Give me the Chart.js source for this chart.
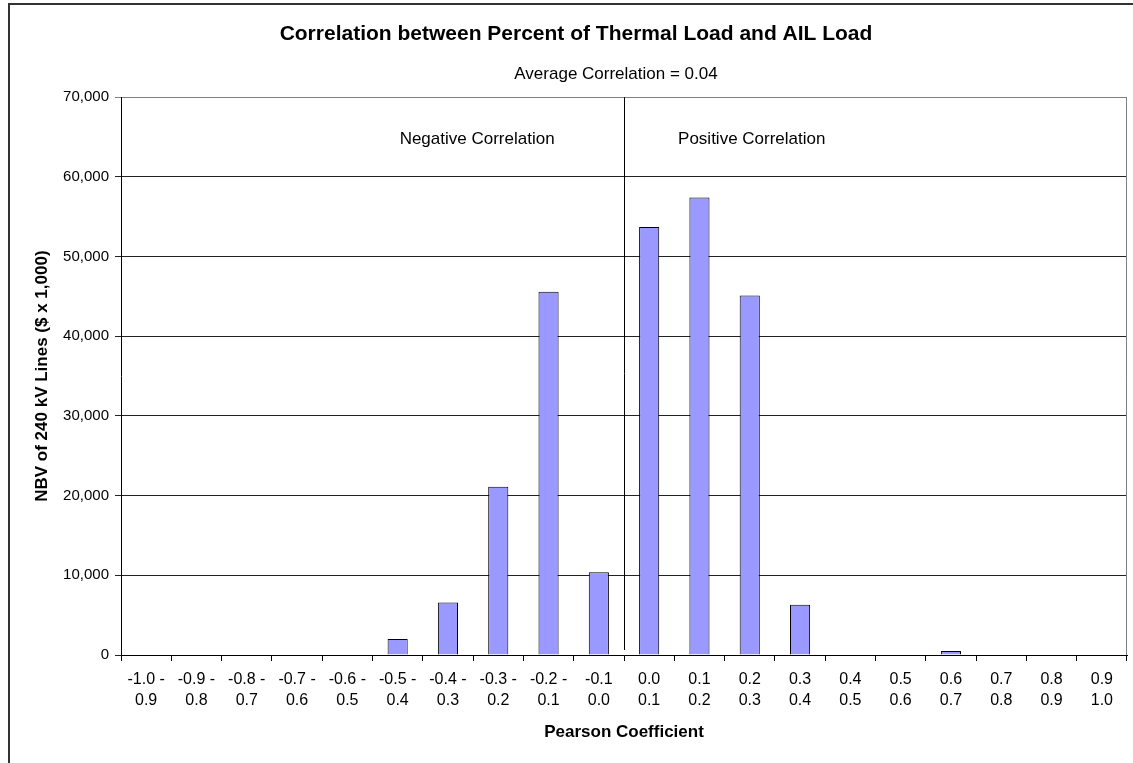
<!DOCTYPE html>
<html>
<head>
<meta charset="utf-8">
<script src="https://cdn.jsdelivr.net/npm/chart.js@4/dist/chart.umd.min.js"></script>
<style>
  html, body { margin: 0; padding: 0; background: #fff; overflow: hidden; }
  #frame { position: absolute; left: 8px; top: 3px; width: 1200px; height: 800px; border: 2px solid #333; background: #fff; }
  #wrap { position: absolute; left: 0; top: 0; width: 1133px; height: 763px; }
</style>
</head>
<body>
<div id="frame"></div>
<div id="wrap"><canvas id="c" width="1133" height="763"></canvas></div>
<script>
// ---- data ----
const labelLine1 = ['-1.0 -','-0.9 -','-0.8 -','-0.7 -','-0.6 -','-0.5 -','-0.4 -','-0.3 -','-0.2 -','-0.1',
                    '0.0','0.1','0.2','0.3','0.4','0.5','0.6','0.7','0.8','0.9'];
const labelLine2 = ['0.9','0.8','0.7','0.6','0.5','0.4','0.3','0.2','0.1','0.0',
                    '0.1','0.2','0.3','0.4','0.5','0.6','0.7','0.8','0.9','1.0'];
const nbvValues  = [0, 0, 0, 0, 0, 2000, 6600, 21100, 45600, 10400,
                    53700, 57400, 45100, 6300, 0, 0, 500, 0, 0, 0];
const yTickMin = 0, yTickMax = 70000, yTickStep = 10000;
const chartTitle = 'Correlation between Percent of Thermal Load and AIL Load';
const subTitle = 'Average Correlation = 0.04';
const negLabel = 'Negative Correlation';
const posLabel = 'Positive Correlation';
const xTitle = 'Pearson Coefficient';
const yTitle = 'NBV of 240 kV Lines ($ x 1,000)';

const categories = labelLine1.map((a, i) => [a, labelLine2[i]]);
const FONT = "'Liberation Sans', Arial, sans-serif";

const overlay = {
  id: 'overlay',
  beforeDatasetsDraw(chart) {
    const {ctx, chartArea} = chart;
    const xs = chart.scales.x;
    ctx.save();
    ctx.strokeStyle = '#808080';
    ctx.lineWidth = 1;
    ctx.beginPath();
    ctx.moveTo(Math.round(chartArea.right) - 0.5, chartArea.top);
    ctx.lineTo(Math.round(chartArea.right) - 0.5, chartArea.bottom);
    ctx.stroke();
    const sx = Math.round((xs.getPixelForValue(9) + xs.getPixelForValue(10)) / 2) + 0.5;
    ctx.strokeStyle = '#000';
    ctx.beginPath();
    ctx.moveTo(sx, chartArea.top);
    ctx.lineTo(sx, chartArea.bottom - 5);
    ctx.stroke();
    ctx.restore();
  },
  afterDraw(chart) {
    const {ctx} = chart;
    const xs = chart.scales.x, ys = chart.scales.y;
    ctx.save();
    ctx.fillStyle = '#000';
    ctx.textAlign = 'center';
    ctx.textBaseline = 'middle';
    ctx.font = "17px " + FONT;
    const sx = (xs.getPixelForValue(9) + xs.getPixelForValue(10)) / 2;
    ctx.fillText(subTitle, sx - 8, 74);
    const ay = ys.getPixelForValue(64700);
    ctx.fillText(negLabel, xs.getPixelForValue(6.58), ay);
    ctx.fillText(posLabel, xs.getPixelForValue(12.04), ay);
    ctx.restore();
  }
};

new Chart(document.getElementById('c'), {
  type: 'bar',
  data: {
    labels: categories,
    datasets: [{
      data: nbvValues,
      backgroundColor: '#9999FF',
      borderColor: '#000',
      borderWidth: 1,
      categoryPercentage: 1.0,
      barPercentage: 0.4
    }]
  },
  options: {
    responsive: false,
    animation: false,
    layout: { padding: { left: 25, right: 6, top: 0, bottom: 0 } },
    plugins: {
      legend: { display: false },
      tooltip: { enabled: false },
      title: {
        display: true,
        text: chartTitle,
        color: '#000',
        font: { family: FONT, size: 21, weight: 'bold' },
        padding: { top: 22, bottom: 50 }
      }
    },
    scales: {
      x: {
        offset: true,
        grid: { display: true, drawOnChartArea: false, drawTicks: true, tickLength: 6, color: '#000', offset: true },
        border: { display: true, color: '#000' },
        ticks: { color: '#000', font: { family: FONT, size: 16, lineHeight: 1.3 }, padding: 8, maxRotation: 0, autoSkip: false },
        title: { display: true, text: xTitle, color: '#000', font: { family: FONT, size: 17, weight: 'bold' }, padding: { top: 0, bottom: 20 } },
        afterFit(scale) { scale.height = 108; }
      },
      y: {
        min: yTickMin, max: yTickMax,
        ticks: { stepSize: yTickStep, color: '#000', font: { family: FONT, size: 15 }, padding: 6 },
        grid: { color: (c) => (c.tick && c.tick.value === yTickMax ? '#808080' : '#222'), tickLength: 6, drawTicks: true },
        border: { display: true, color: '#000' },
        title: { display: true, text: yTitle, color: '#000', font: { family: FONT, size: 17, weight: 'bold' }, padding: { top: 7, bottom: 0 } },
        afterFit(scale) { scale.width = 96; }
      }
    }
  },
  plugins: [overlay]
});
</script>
</body>
</html>
